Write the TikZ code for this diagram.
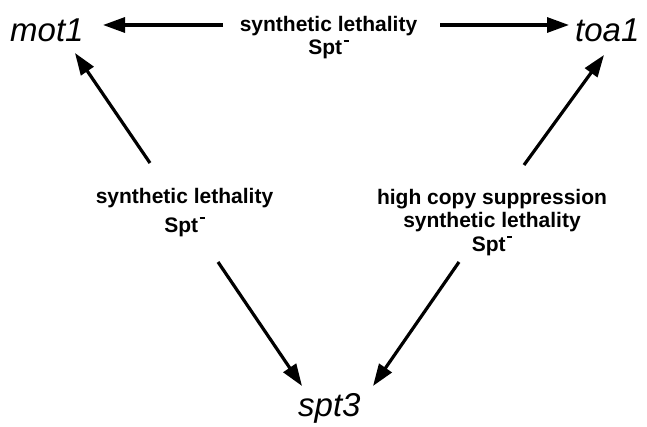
\documentclass[tikz,border=0pt]{standalone}
\usepackage{fontspec}
\setmainfont{Liberation Sans}
\usetikzlibrary{arrows.meta}
\newcommand{\sptminus}{Spt\kern1.5pt\rule[13pt]{5pt}{2pt}}
\begin{document}
\begin{tikzpicture}[x=1pt,y=1pt,
  gene/.style={inner sep=0pt, anchor=base west, font=\fontsize{33}{36}\selectfont\itshape},
  lbl/.style={inner sep=0pt, anchor=north, align=center, font=\fontsize{21}{23.5}\selectfont\bfseries},
  arr/.style={line width=3.2pt, -{Triangle[length=22pt,width=15pt]}}]
\useasboundingbox (0,0) rectangle (647,426);
\node[gene] (mot1) at (10,384) {mot1};
\node[gene] (toa1) at (575,384) {toa1};
\node[gene] (spt3) at (298,10) {spt3};
\node[lbl] (T) at (328.5,410) {synthetic lethality\\\sptminus};
\node[lbl, font=\fontsize{21}{29}\selectfont\bfseries] (L) at (184.5,238) {synthetic lethality\\\sptminus};
\node[lbl] (R) at (492,237) {high copy suppression\\synthetic lethality\\\sptminus};
\draw[arr] ([shift={(-105.5pt,-9pt)}]T.north) -- ([shift={(93pt,17pt)}]mot1.base west);
\draw[arr] ([shift={(111.5pt,-9pt)}]T.north) -- ([shift={(-6pt,17pt)}]toa1.base west);
\draw[arr] ([shift={(-34.5pt,25pt)}]L.north) -- ([shift={(65pt,-11pt)}]mot1.base west);
\draw[arr] ([shift={(33.5pt,-74pt)}]L.north) -- ([shift={(4pt,30pt)}]spt3.base west);
\draw[arr] ([shift={(32pt,24pt)}]R.north) -- ([shift={(29pt,-13pt)}]toa1.base west);
\draw[arr] ([shift={(-33pt,-73pt)}]R.north) -- ([shift={(75pt,30pt)}]spt3.base west);
\end{tikzpicture}
\end{document}
